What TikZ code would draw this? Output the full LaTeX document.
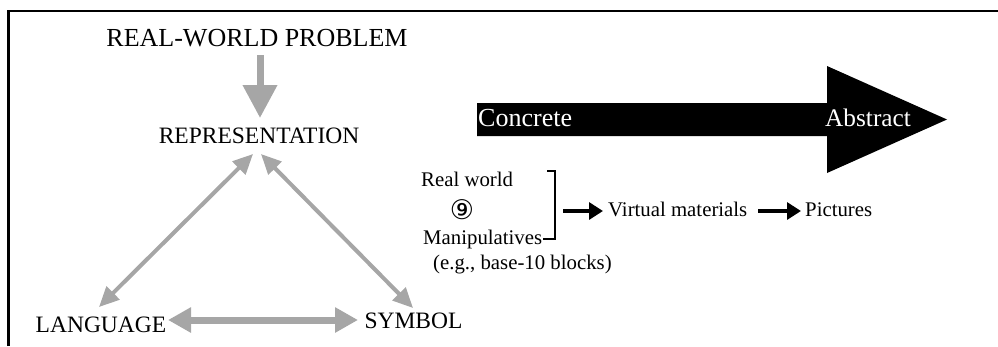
\documentclass[tikz,border=0pt]{standalone}
\usepackage{fontspec}
\setmainfont{Liberation Serif}
\newfontfamily\circfont{DejaVu Sans}
\usetikzlibrary{arrows.meta}
\definecolor{arrgray}{HTML}{A6A6A6}
\begin{document}
\begin{tikzpicture}[x=1pt,y=-1pt,
  capsl/.style={inner sep=0pt, anchor=base, font=\fontsize{23.5}{28}\selectfont},
  small/.style={inner sep=0pt, anchor=base west, font=\fontsize{20.8}{25}\selectfont},
  whitelbl/.style={inner sep=0pt, anchor=base west, text=white},
  grayarr/.style={draw=arrgray, line width=4pt, {Triangle[length=20pt,width=18pt]}-{Triangle[length=20pt,width=18pt]}},
  grayhoriz/.style={draw=arrgray, line width=7pt, {Triangle[length=23pt,width=24pt]}-{Triangle[length=23pt,width=24pt]}},
  graydown/.style={draw=arrgray, line width=7pt, -{Triangle[length=33pt,width=33pt]}},
  blkarr/.style={draw=black, line width=3.2pt, -{Triangle[length=14pt,width=17pt]}},
  frame/.style={draw=black, line width=2.7pt}
]
\useasboundingbox (0,0) rectangle (998,346);
% frame
\draw[frame] (8.7,346) -- (8.7,11) -- (998,11);

% left diagram texts
\node[capsl, font=\fontsize{26}{30}\selectfont] (rwp) at (257,46.5) {REAL-WORLD PROBLEM};
\node[capsl] (rep) at (259,143.5) {REPRESENTATION};
\node[capsl] (lang) at (101,332) {LANGUAGE};
\node[capsl] (sym) at (413.5,328) {SYMBOL};

% arrow tip coordinates
\coordinate (rwpB) at (260,55);
\coordinate (repT) at (260,118);
\coordinate (repL) at (253,154);
\coordinate (repR) at (261,154);
\coordinate (langT) at (99,307);
\coordinate (langR) at (168,320);
\coordinate (symT) at (413,308);
\coordinate (symL) at (358,320);

\draw[graydown] (rwpB) -- (repT);
\draw[grayarr] (langT) -- (repL);
\draw[grayarr] (repR) -- (symT);
\draw[grayhoriz] (langR) -- (symL);

% big black arrow
\fill[black] (477,103) -- (827,103) -- (827,66) -- (947,119.5) -- (827,173) -- (827,136) -- (477,136) -- cycle;
\node[whitelbl, font=\fontsize{26}{30}\selectfont] (conc) at (478,126) {Concrete};
\node[whitelbl, font=\fontsize{25.3}{30}\selectfont] (abst) at (825,126.5) {Abstract};

% right side texts
\node[small] (rw) at (421,186) {Real world};
\node[inner sep=0pt, font=\circfont\fontsize{27}{30}\selectfont] (nine) at (462,210) {⑨};
\node[small] (manip) at (423,244.3) {Manipulatives};
\node[small] (eg) at (433,269) {(e.g., base-10 blocks)};
\node[small] (vm) at (608,216.7) {Virtual materials};
\node[small] (pic) at (805,216.7) {Pictures};

% bracket
\draw[black, line width=2.5pt] (547,171) -- (555,171) -- (555,239) -- (543,239);

\coordinate (brk) at (563,211);
\coordinate (vmW) at (603,211);
\coordinate (vmE) at (758,211);
\coordinate (picW) at (801,211);
\draw[blkarr] (brk) -- (vmW);
\draw[blkarr] (vmE) -- (picW);
\end{tikzpicture}
\end{document}
